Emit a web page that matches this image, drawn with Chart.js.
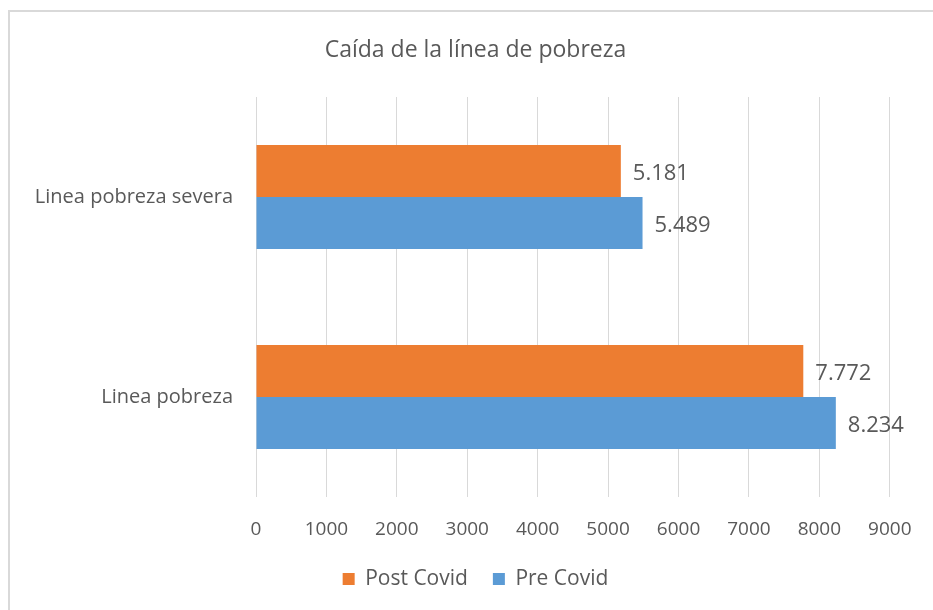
<!DOCTYPE html>
<html>
<head>
<meta charset="utf-8">
<script src="https://cdn.jsdelivr.net/npm/chart.js@4/dist/chart.umd.min.js"></script>
<style>
  html, body { margin: 0; padding: 0; background: #fff; }
  #wrap { width: 933px; height: 610px; position: relative; }
</style>
</head>
<body>
<div id="wrap"><canvas id="chart"></canvas></div>
<script>
const categories = ["Linea pobreza severa", "Linea pobreza"];
const postCovid = [5181, 7772];
const preCovid = [5489, 8234];
const xTicks = [0, 1000, 2000, 3000, 4000, 5000, 6000, 7000, 8000, 9000];

const FONT = "'Open Sans', sans-serif";
const TEXT = "#595959";

// thousands separator as a dot, like the original spreadsheet
const fmt = (v) => String(v).replace(/\B(?=(\d{3})+(?!\d))/g, ".");

const frame = {
  id: "frame",
  beforeDraw(chart) {
    const ctx = chart.ctx;
    ctx.save();
    ctx.fillStyle = "#fff";
    ctx.fillRect(0, 0, chart.width, chart.height);
    ctx.strokeStyle = "#d9d9d9";
    ctx.lineWidth = 2;
    ctx.beginPath();
    ctx.moveTo(9, chart.height);
    ctx.lineTo(9, 11);
    ctx.lineTo(chart.width, 11);
    ctx.stroke();
    ctx.restore();
  },
};

const barLabels = {
  id: "barLabels",
  afterDatasetsDraw(chart) {
    const ctx = chart.ctx;
    ctx.save();
    ctx.font = "22px " + FONT;
    ctx.fillStyle = TEXT;
    ctx.textAlign = "left";
    ctx.textBaseline = "middle";
    chart.data.datasets.forEach((ds, i) => {
      chart.getDatasetMeta(i).data.forEach((bar, j) => {
        ctx.fillText(fmt(ds.data[j]), bar.x + 12, bar.y + 3);
      });
    });
    ctx.restore();
  },
};

new Chart(document.getElementById("chart"), {
  type: "bar",
  data: {
    labels: categories,
    datasets: [
      { label: "Post Covid", data: postCovid, backgroundColor: "#ed7d31" },
      { label: "Pre Covid", data: preCovid, backgroundColor: "#5b9bd5" },
    ],
  },
  options: {
    indexAxis: "y",
    responsive: true,
    maintainAspectRatio: false,
    animation: false,
    categoryPercentage: 0.52,
    barPercentage: 1,
    layout: { padding: { left: 18, right: 0, top: 0, bottom: 10.5 } },
    plugins: {
      title: {
        display: true,
        text: "Caída de la línea de pobreza",
        color: TEXT,
        font: { family: FONT, size: 23, weight: "normal" },
        padding: { top: 37, bottom: 32.4 },
      },
      legend: {
        position: "bottom",
        labels: {
          color: TEXT,
          font: { family: FONT, size: 21 },
          boxWidth: 12,
          boxHeight: 12,
          padding: 25,
        },
      },
      tooltip: { enabled: false },
    },
    scales: {
      x: {
        min: 0,
        max: 9000,
        afterBuildTicks: (axis) => { axis.ticks = xTicks.map((v) => ({ value: v })); },
        ticks: {
          color: TEXT,
          font: { family: FONT, size: 19 },
          padding: 21.5,
          callback: (v) => String(v),
          maxRotation: 0,
        },
        grid: { color: "#d9d9d9", lineWidth: 1, drawTicks: false },
        border: { display: false },
        afterFit: (axis) => { axis.height = 46.5; },
      },
      y: {
        ticks: {
          color: TEXT,
          font: { family: FONT, size: 20 },
          padding: 23,
        },
        grid: { display: false, drawTicks: false },
        border: { display: false },
        afterFit: (axis) => { axis.width = 238; },
      },
      // empty right-hand spacer so the plot ends where the original does
      spacer: {
        type: "category",
        position: "right",
        ticks: { display: false },
        grid: { display: false, drawTicks: false },
        border: { display: false },
        afterFit: (axis) => { axis.width = 42; },
      },
    },
  },
  plugins: [frame, barLabels],
});
</script>
</body>
</html>
